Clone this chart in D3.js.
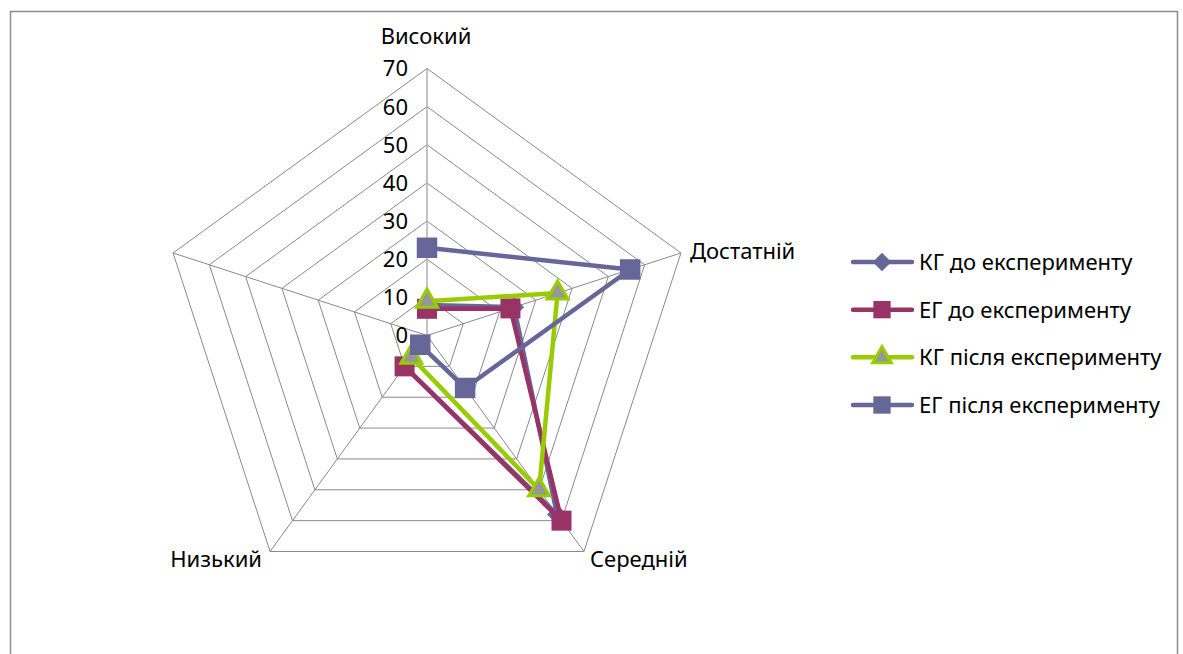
<!DOCTYPE html>
<html>
<head>
<meta charset="utf-8">
<script src="https://cdn.jsdelivr.net/npm/d3@7"></script>
<style>
	body { margin: 0; background: #fff; }
	svg text { font-family: "Noto Sans", "Open Sans", sans-serif; fill: #000; }
</style>
</head>
<body>
<div id="radar"></div>
<script>
/* Radar chart: levels before / after the experiment */

var categories = ["Високий", "Достатній", "Середній", "Низький", ""];
var ticks = [0, 10, 20, 30, 40, 50, 60, 70];

var kgBefore = [8, 24, 58, 10, null];
var egBefore = [7, 23, 60, 10, null];
var kgAfter = [9, 36, 50, 7, null];
var egAfter = [23, 56, 17, 3, null];

var seriesNames = ["КГ до експерименту", "ЕГ до експерименту", "КГ після експерименту", "ЕГ після експерименту"];
var seriesValues = [kgBefore, egBefore, kgAfter, egAfter];

var width = 1183,
	height = 654,
	cx = 427,
	cy = 335.5,
	radius = 267;

var styles = [
	{ stroke: "#666699", fill: "#666699", shape: d3.symbolSquare, rotate: 45, size: 200, width: 4.5 },
	{ stroke: "#993366", fill: "#993366", shape: d3.symbolSquare, size: 400, width: 4.5 },
	{ stroke: "#99cc00", fill: "#969696", shape: d3.symbolTriangle, size: 190, width: 4.5, markerStroke: 3 },
	{ stroke: "#666699", fill: "#666699", shape: d3.symbolSquare, size: 420, width: 4.5 }
];

var svg = d3.select("#radar").append("svg")
	.attr("width", width)
	.attr("height", height);

// chart frame (runs off the bottom of the picture)
svg.append("rect")
	.attr("x", 10.5).attr("y", 11.5)
	.attr("width", 1167).attr("height", 700)
	.attr("fill", "none")
	.attr("stroke", "#8c8c8c")
	.attr("stroke-width", 1.5);

var r = d3.scaleLinear().domain([0, 70]).range([0, radius]);
var angle = function(i) { return i * 2 * Math.PI / categories.length; };
function pos(i, v) {
	return [cx + r(v) * Math.sin(angle(i)), cy - r(v) * Math.cos(angle(i))];
}

/* grid rings */
var grid = svg.append("g").attr("class", "grid");
ticks.slice(1).forEach(function(t) {
	var pts = categories.map(function(c, i) { return pos(i, t); });
	grid.append("polygon")
		.attr("points", pts.map(function(p) { return p.join(","); }).join(" "))
		.attr("fill", "none")
		.attr("stroke", "#8a8a8a")
		.attr("stroke-width", 1);
});
categories.forEach(function(c, i) {
	var p = pos(i, 70);
	grid.append("line")
		.attr("x1", cx).attr("y1", cy)
		.attr("x2", p[0]).attr("y2", p[1])
		.attr("stroke", i == 0 ? "#b0b0b0" : "#8a8a8a")
		.attr("stroke-width", i == 0 ? 1.5 : 1);
});

/* tick labels on the top axis */
svg.append("g").selectAll("text")
	.data(ticks)
	.enter().append("text")
	.attr("x", 408)
	.attr("y", function(d) { return cy - r(d); })
	.attr("dy", "0.36em")
	.attr("text-anchor", "end")
	.style("font-size", "22px")
	.text(function(d) { return d; });

/* category labels */
var labelPos = [
	{ x: 426, y: 36, anchor: "middle" },
	{ x: 690, y: 251, anchor: "start" },
	{ x: 590, y: 559, anchor: "start" },
	{ x: 262, y: 559, anchor: "end" },
	{ x: 170, y: 251, anchor: "end" }
];
svg.append("g").selectAll("text")
	.data(categories)
	.enter().append("text")
	.attr("x", function(d, i) { return labelPos[i].x; })
	.attr("y", function(d, i) { return labelPos[i].y; })
	.attr("dy", "0.36em")
	.attr("text-anchor", function(d, i) { return labelPos[i].anchor; })
	.style("font-size", "22px")
	.text(function(d) { return d; });

/* series */
var line = d3.line()
	.defined(function(d) { return d.v != null; })
	.x(function(d) { return pos(d.i, d.v)[0]; })
	.y(function(d) { return pos(d.i, d.v)[1]; });

seriesValues.forEach(function(vals, s) {
	var st = styles[s];
	var pts = vals.map(function(v, i) { return { i: i, v: v }; });
	var g = svg.append("g").attr("class", "series-" + s);
	g.append("path")
		.attr("d", line(pts))
		.attr("fill", "none")
		.attr("stroke", st.stroke)
		.attr("stroke-width", st.width)
		.attr("stroke-linejoin", "round");
	g.selectAll("path.marker")
		.data(pts.filter(function(d) { return d.v != null; }))
		.enter().append("path")
		.attr("class", "marker")
		.attr("d", d3.symbol().type(st.shape).size(st.size))
		.attr("transform", function(d) {
			var p = pos(d.i, d.v);
			return "translate(" + p[0] + "," + p[1] + ") rotate(" + (st.rotate || 0) + ")";
		})
		.attr("fill", st.fill)
		.attr("stroke", st.markerStroke ? st.stroke : "none")
		.attr("stroke-width", st.markerStroke || 0);
});

/* legend */
var legend = svg.append("g").attr("class", "legend");
var legendY = d3.scalePoint().domain(seriesNames).range([262, 405]);
seriesNames.forEach(function(name, s) {
	var st = styles[s];
	var y = legendY(name);
	legend.append("line")
		.attr("x1", 853).attr("x2", 912)
		.attr("y1", y).attr("y2", y)
		.attr("stroke", st.stroke)
		.attr("stroke-width", st.width)
		.attr("stroke-linecap", "round");
	legend.append("path")
		.attr("d", d3.symbol().type(st.shape).size(s == 0 ? 170 : (s == 2 ? 150 : 300)))
		.attr("transform", "translate(882," + y + ") rotate(" + (st.rotate || 0) + ")")
		.attr("fill", st.fill)
		.attr("stroke", st.markerStroke ? st.stroke : "none")
		.attr("stroke-width", st.markerStroke || 0);
	legend.append("text")
		.attr("x", 919).attr("y", y)
		.attr("dy", "0.36em")
		.style("font-size", "22px")
		.text(name);
});
</script>
</body>
</html>
